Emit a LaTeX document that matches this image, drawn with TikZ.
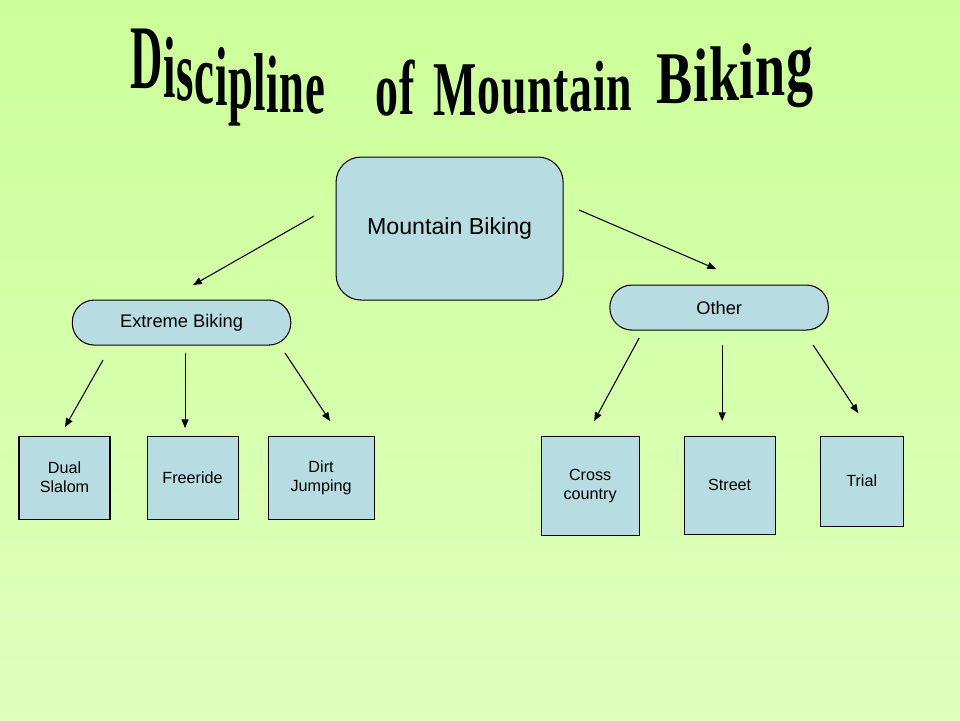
\documentclass[tikz,border=0pt]{standalone}
\usepackage{fontspec}
\setmainfont{Liberation Sans}
\newfontfamily\titlefont{Liberation Serif}
\usetikzlibrary{arrows.meta}
\definecolor{boxblue}{RGB}{183,221,227}
\definecolor{topgreen}{RGB}{204,255,153}
\definecolor{botgreen}{RGB}{222,255,189}

\begin{document}
\begin{tikzpicture}[x=0.02cm,y=-0.02cm,
  tl/.style={inner sep=0pt,anchor=base west,font=\titlefont\bfseries\fontsize{45}{45}\selectfont},
  box/.style 2 args={draw,fill=boxblue,line width=0.6pt,align=center,inner sep=0pt,
    font=\fontsize{9.2}{10.8}\selectfont,minimum width=#1*0.02cm,minimum height=#2*0.02cm},
  pill/.style={draw,fill=boxblue,line width=0.6pt,rounded corners=0.44cm,
    minimum width=4.37cm,minimum height=0.9cm,font=\fontsize{10.4}{12}\selectfont},
  arr/.style={-{Triangle[length=5pt,width=4pt]},line width=0.6pt}]
\shade[top color=topgreen,bottom color=botgreen] (0cm,0cm) rectangle (19.2cm,-14.4cm);
\useasboundingbox (0cm,0cm) rectangle (19.2cm,-14.4cm);

% title, one letter at a time on a sagging baseline
\node[inner sep=0pt,anchor=base east] (d0) at (130,88) {};
\foreach \ch/\ly/\s [count=\i, remember=\i as \j (initially 0)] in
  {D/88/1.15, i/97/1.1, s/100/1.1, c/103/1.08, i/105/1.06,
   p/108/1.05, l/110/1.04, i/112/1.03, n/112/1.02, e/113/1.0}
  \node[tl] (d\i) at (d\j.base east |- 0,\ly) {\scalebox{0.565}[\s]{\ch}};
\node[inner sep=0pt,anchor=base east] (o0) at (375,115) {};
\foreach \ch/\ly/\s [count=\i, remember=\i as \j (initially 0)] in
  {o/115/0.98, f/114/0.98}
  \node[tl] (o\i) at (o\j.base east |- 0,\ly) {\scalebox{0.58}[\s]{\ch}};
\node[inner sep=0pt,anchor=base east] (m0) at (433,115) {};
\foreach \ch/\ly/\s [count=\i, remember=\i as \j (initially 0)] in
  {M/115/0.98, o/113/0.95, u/113/0.92, n/112/0.9, t/111/0.9,
   a/111/0.9, i/110/0.9, n/110/0.9}
  \node[tl] (m\i) at (m\j.base east |- 0,\ly) {\scalebox{0.58}[\s]{\ch}};
\node[inner sep=0pt,anchor=base east] (b0) at (656,103) {};
\foreach \ch/\ly/\s [count=\i, remember=\i as \j (initially 0)] in
  {B/103/0.94, i/101/0.96, k/100/0.98, i/98/1.0, n/95/1.0, g/89/1.05}
  \node[tl] (b\i) at (b\j.base east |- 0,\ly) {\scalebox{0.685}[\s]{\ch}};

\node[draw,fill=boxblue,line width=0.6pt,rounded corners=0.5cm,minimum width=4.54cm,
  minimum height=2.86cm,font=\fontsize{13.2}{15}\selectfont] (mb) at (449.5,228.5) {Mountain Biking};
\node[pill] (eb) at (181.5,322.5) {Extreme Biking};
\node[pill] (ot) at (719,307.5) {Other};

\node[box={91}{83}] (ds) at (64.5,477.5) {Dual\\Slalom};
\node[box={91}{83}] (fr) at (192.5,477.5) {Freeride};
\node[box={106}{83}] (dj) at (321,477.5) {Dirt\\Jumping};
\node[box={98}{99}] (cc) at (590,485.5) {Cross\\country};
\node[box={91}{98}] (st) at (729.5,485) {Street};
\node[box={83}{90}] (tr) at (861.5,481) {Trial};

% free arrow ends
\coordinate (mb-l) at (314,216);   \coordinate (eb-in) at (193,285);
\coordinate (mb-r) at (579,210);   \coordinate (ot-in) at (716,269);
\coordinate (eb-1) at (103,360);   \coordinate (ds-in) at (65,427);
\coordinate (eb-2) at (185,353);   \coordinate (fr-in) at (185,428);
\coordinate (eb-3) at (285,353);   \coordinate (dj-in) at (330,421);
\coordinate (ot-1) at (639,338);   \coordinate (cc-in) at (594,421);
\coordinate (ot-2) at (722,345);   \coordinate (st-in) at (722,421);
\coordinate (ot-3) at (813,345);   \coordinate (tr-in) at (858,413);

\draw[arr] (mb-l) -- (eb-in);
\draw[arr] (mb-r) -- (ot-in);
\draw[arr] (eb-1) -- (ds-in);
\draw[arr] (eb-2) -- (fr-in);
\draw[arr] (eb-3) -- (dj-in);
\draw[arr] (ot-1) -- (cc-in);
\draw[arr] (ot-2) -- (st-in);
\draw[arr] (ot-3) -- (tr-in);
\end{tikzpicture}
\end{document}
